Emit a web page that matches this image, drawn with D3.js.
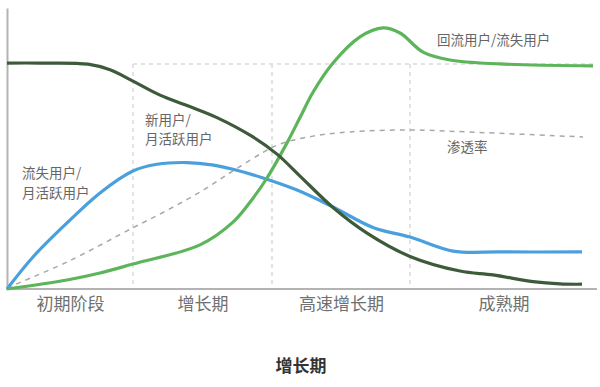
<!DOCTYPE html>
<html>
<head>
<meta charset="utf-8">
<script src="https://cdn.jsdelivr.net/npm/d3@7"></script>
<style>
  html, body { margin: 0; padding: 0; background: #fff; }
  svg { display: block; font-family: "Noto Sans CJK SC", "Noto Sans", sans-serif; }
</style>
</head>
<body>
<svg id="chart" width="600" height="387"></svg>
<script>
// Phases along the product lifecycle (time in arbitrary units)
const phaseLabels = ["初期阶段", "增长期", "高速增长期", "成熟期"];
const phaseBounds = [0, 12.6, 26.5, 40.3, 59];

// 新用户/月活跃用户
const newUserRatio = [
  [0, 80.4], [3.3, 80.4], [8.1, 80.0], [10.3, 78.0], [12.6, 74.0], [15.3, 69.0],
  [18, 65.3], [21, 61.0], [24.6, 54.1], [27, 48.0], [29.3, 40.2], [32.6, 29.0],
  [36, 19.9], [40.3, 11.6], [45.3, 6.4], [48.6, 5], [52.6, 2.6], [55.3, 1.8], [57.5, 1.7]
];
// 流失用户/月活跃用户
const churnRatio = [
  [0, 0], [2.6, 11.4], [6, 23.5], [9.3, 34.2], [12.6, 42.0], [15, 44.4], [18, 45.0],
  [20.5, 44.2], [22.6, 42.6], [25.6, 39.5], [29, 35.2], [32.6, 29.2], [36.6, 21.9],
  [40.3, 18.5], [44.6, 13.5], [49.3, 13.2], [57.5, 13.2]
];
// 回流用户/流失用户
const returnRatio = [
  [0, 0], [6, 3.2], [9.3, 5.7], [12.6, 8.9], [19.3, 15.7], [22.6, 23.8], [24.3, 30.9],
  [26, 39.5], [28, 52.0], [29.3, 61.0], [30.6, 70.0], [32.6, 80.4], [35.3, 89.7],
  [37.6, 92.9], [39.3, 91.1], [41.6, 84.3], [44.3, 81.5], [49.3, 80.1], [58.6, 79.4]
];
// 渗透率
const penetration = [
  [0, 0.4], [6, 9.6], [12.6, 21.8], [16, 28.0], [19.3, 34.5], [22.6, 42.0], [25.6, 48.6],
  [27.3, 51.6], [30.6, 54.4], [34.3, 55.9], [40.3, 56.6], [46, 55.9], [57.6, 54.1]
];
const gridLevel = 80.1;

const svg = d3.select("#chart");
const x = d3.scaleLinear().domain([0, 59]).range([7, 597]);
const y = d3.scaleLinear().domain([0, 100]).range([289, 8]);

// Dashed phase grid
const grid = svg.append("g")
  .attr("stroke", "#dadada").attr("stroke-width", 1.5).attr("stroke-dasharray", "4,4");
grid.append("line")
  .attr("x1", x(phaseBounds[1])).attr("x2", x(phaseBounds[4]))
  .attr("y1", y(gridLevel)).attr("y2", y(gridLevel));
grid.selectAll(".vline").data(phaseBounds.slice(1, 4)).join("line")
  .attr("x1", d => x(d)).attr("x2", d => x(d))
  .attr("y1", y(gridLevel)).attr("y2", y(0));

// Axes
const centers = phaseLabels.map((_, i) => (phaseBounds[i] + phaseBounds[i + 1]) / 2);
const xAxis = svg.append("g").attr("transform", `translate(0,${y(0)})`)
  .call(d3.axisBottom(x).tickValues(centers).tickSize(0).tickSizeOuter(0)
    .tickFormat((d, i) => phaseLabels[i]));
xAxis.select(".domain").attr("stroke", "#b3b3b3").attr("stroke-width", 2)
  .attr("d", `M${x(0) - 1},0H${x(59)}`);
xAxis.selectAll("text").attr("fill", "#707070").attr("font-size", 17)
  .attr("font-family", "Noto Sans CJK SC").attr("dy", "1.05em");

const yAxis = svg.append("g").attr("transform", `translate(${x(0)},0)`)
  .call(d3.axisLeft(y).tickValues([]).tickSizeOuter(0));
yAxis.select(".domain").attr("stroke", "#b3b3b3").attr("stroke-width", 2);

// Curves
const line = d3.line().x(d => x(d[0])).y(d => y(d[1])).curve(d3.curveCatmullRom.alpha(0.5));

svg.append("path").datum(penetration).attr("d", line)
  .attr("fill", "none").attr("stroke", "#a8a8a8").attr("stroke-width", 1.5)
  .attr("stroke-dasharray", "5,5");
svg.append("path").datum(churnRatio).attr("d", line)
  .attr("fill", "none").attr("stroke", "#4aa0dc").attr("stroke-width", 3.2);
svg.append("path").datum(returnRatio).attr("d", line)
  .attr("fill", "none").attr("stroke", "#5cb55a").attr("stroke-width", 3.2);
svg.append("path").datum(newUserRatio).attr("d", line)
  .attr("fill", "none").attr("stroke", "#3d5a3a").attr("stroke-width", 3.2);

// Curve annotations
const notes = [
  { lines: ["新用户/", "月活跃用户"], at: [13.8, 58.5] },
  { lines: ["流失用户/", "月活跃用户"], at: [1.5, 39.5] },
  { lines: ["回流用户/流失用户"], at: [43, 86.7] },
  { lines: ["渗透率"], at: [44, 48.8] }
];
notes.forEach(n => {
  const t = svg.append("text")
    .attr("x", x(n.at[0])).attr("y", y(n.at[1]))
    .attr("fill", "#666").attr("font-size", 13.5);
  n.lines.forEach((s, i) => {
    t.append("tspan").attr("x", x(n.at[0])).attr("dy", i ? "1.45em" : 0).text(s);
  });
});

// Title
svg.append("text").attr("x", 301).attr("y", 372).attr("text-anchor", "middle")
  .attr("font-size", 17).attr("font-weight", "bold").attr("fill", "#333")
  .text("增长期");
</script>
</body>
</html>
